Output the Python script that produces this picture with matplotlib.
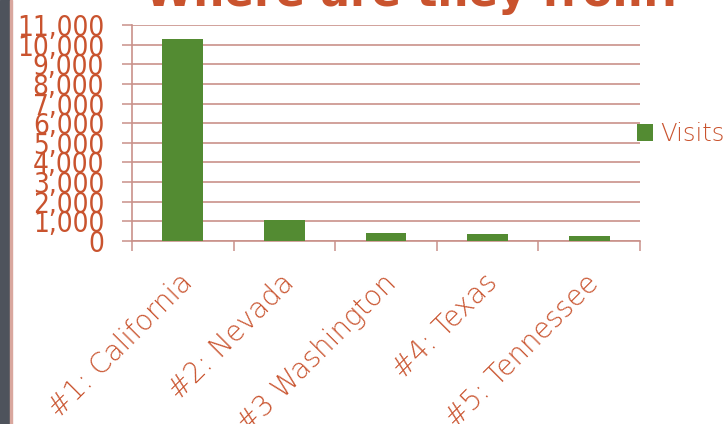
import matplotlib
matplotlib.use("Agg")
import matplotlib.pyplot as plt
from matplotlib.patches import Rectangle
import matplotlib.transforms as mtransforms

categories = ["#1: California", "#2: Nevada", "#3 Washington", "#4: Texas", "#5: Tennessee"]
visits = [10280, 1050, 420, 380, 280]
series_name = "Visits"
y_ticks = list(range(0, 11001, 1000))
y_tick_labels = [f"{v:,}" for v in y_ticks]
title = "Where are they from?"

TXT = "#C9532E"
GRID = "#C9918A"
GREEN = "#538B32"
FONT = ["DejaVu Sans"]

W, H = 726, 424
fig = plt.figure(figsize=(W / 100, H / 100), dpi=100)
fig.patch.set_facecolor("white")

# slide left border
fig.patches.append(Rectangle((0, 0), 10 / W, 1, transform=fig.transFigure, color="#4E535C", zorder=0))
fig.patches.append(Rectangle((10 / W, 0), 2 / W, 1, transform=fig.transFigure, color="#D9A79E", zorder=0))

ax = fig.add_axes([132 / W, 183 / H, (640 - 132) / W, 216 / H])
x = list(range(len(categories)))
bars = ax.bar(x, visits, width=0.4, color=GREEN, label=series_name, zorder=3)

ax.set_xlim(-0.5, len(categories) - 0.5)
ax.set_ylim(0, 11000)
ax.set_yticks(y_ticks)
ax.set_yticklabels(y_tick_labels, fontsize=20, color=TXT, family=FONT, fontweight=200,
                   fontstretch="condensed")
ax.tick_params(axis="y", length=7, width=1.1, color=GRID, pad=13)
ax.yaxis.grid(True, color=GRID, linewidth=1.2, zorder=0)
ax.set_axisbelow(True)

ax.set_xticks(x)
ax.set_xticklabels(categories, fontsize=20, color=TXT, family=FONT, fontweight=200,
                   rotation=45, ha="right", va="top", rotation_mode="anchor")
ax.tick_params(axis="x", length=0, pad=20)
ax.set_xticks([i - 0.5 for i in range(len(categories) + 1)], minor=True)
ax.tick_params(axis="x", which="minor", length=7, width=1.1, color=GRID)
off = mtransforms.ScaledTranslation(-3 / 72, 0, fig.dpi_scale_trans)
for lbl in ax.get_xticklabels():
    lbl.set_transform(lbl.get_transform() + off)

for s in ["top", "right"]:
    ax.spines[s].set_visible(False)
for s in ["left", "bottom"]:
    ax.spines[s].set_color(GRID)
    ax.spines[s].set_linewidth(1.2)

leg = ax.legend(loc="center left", bbox_to_anchor=(637 / W, 1 - 134 / H), bbox_transform=fig.transFigure,
                frameon=False, borderpad=0, borderaxespad=0, handlelength=0.66, handleheight=0.66,
                handletextpad=0.28, prop={"family": FONT, "size": 17.5, "weight": 200})
for t in leg.get_texts():
    t.set_color(TXT)

fig.text(145 / W, 1 - 6 / H, title, fontsize=31.5, fontweight="bold", color=TXT, family=FONT,
         ha="left", va="baseline")

fig.savefig("out.png", dpi=100)
